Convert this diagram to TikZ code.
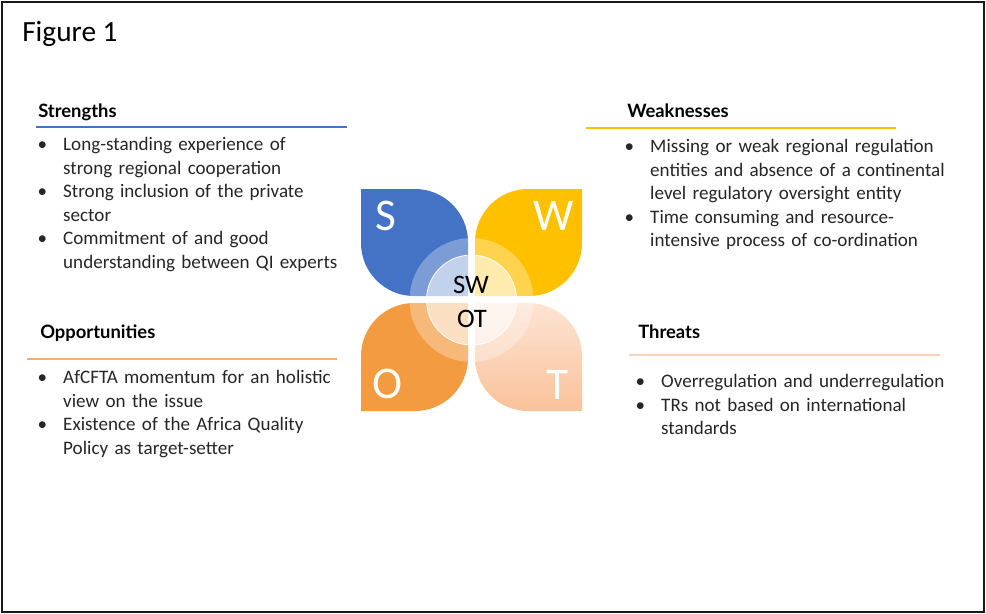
\documentclass[tikz,border=0pt]{standalone}
\usepackage{fontspec}
\setmainfont{Carlito}
\newfontfamily\headfont{Lato}
\usepackage{xcolor}
\usetikzlibrary{positioning}

\definecolor{swotblue}{HTML}{4472C4}
\definecolor{swotgold}{HTML}{FFC000}
\definecolor{swotorange}{HTML}{F39B40}
\definecolor{swotpeach}{HTML}{F9C29A}
\definecolor{swotpeachtop}{HTML}{FDE4D4}
\definecolor{lineorange}{HTML}{F4AE78}
\definecolor{linepeach}{HTML}{F9D2B6}
\definecolor{bodygray}{HTML}{262626}

% bullet list with tight spacing
\newcommand{\swotitems}[1]{%
  \begin{list}{\textbullet}{\setlength{\leftmargin}{20pt}\setlength{\labelsep}{12pt}%
      \setlength{\labelwidth}{8pt}\setlength{\itemsep}{0pt}\setlength{\parsep}{0pt}%
      \setlength{\topsep}{0pt}\setlength{\partopsep}{0pt}}#1\end{list}}

\begin{document}
\begin{tikzpicture}[x=0.75pt, y=-0.75pt,
            heading/.style={inner sep=0pt, anchor=base west, font=\headfont\bfseries\fontsize{13.8}{16}\selectfont},
            items/.style={inner sep=0pt, anchor=north west, text width=300pt, align=left, text=bodygray,
              font=\fontsize{14.3}{17.6}\selectfont},
            letter/.style={inner sep=0pt, anchor=base, text=white, font=\fontsize{34}{40}\selectfont},
            hub/.style={inner sep=0pt, anchor=base, font=\fontsize{20}{24}\selectfont}
        ]
        \useasboundingbox (0,0) rectangle (986,614);

        % frame
        \draw[line width=1.5pt, black!90] (2,2) rectangle (984,612);
        \node[inner sep=0pt, anchor=base west, font=\fontsize{22}{26}\selectfont] (title) at (22,41) {Figure 1};

        % petals
        \fill[swotblue] (361,189) -- (415,189) arc[start angle=-90, end angle=0, radius=53]
            -- (468,296) -- (414,296) arc[start angle=90, end angle=180, radius=53] -- cycle;
        \fill[swotgold] (582,189) -- (582,243) arc[start angle=0, end angle=90, radius=53]
            -- (475,296) -- (475,242) arc[start angle=180, end angle=270, radius=53] -- cycle;
        \fill[swotorange] (468,303) -- (414,303) arc[start angle=270, end angle=180, radius=53]
            -- (361,411) -- (415,411) arc[start angle=90, end angle=0, radius=53] -- cycle;
        \shade[top color=swotpeachtop, bottom color=swotpeach] (475,303) -- (529,303)
            arc[start angle=270, end angle=360, radius=53]
            -- (582,411) -- (528,411) arc[start angle=90, end angle=180, radius=53] -- cycle;

        % hub circles
        \fill[white, fill opacity=0.3] (471.5,300) circle[radius=62];
        \filldraw[white, fill opacity=0.55, line width=0.6pt] (471.5,300) circle[radius=45];

        \node[letter] (sLetter) at (386,230) {S};
        \node[letter] (wLetter) at (554,230) {W};
        \node[letter] (oLetter) at (388,398) {O};
        \node[letter] (tLetter) at (558,399) {T};
        \node[hub] (hubTop) at (471,293) {SW};
        \node[hub] (hubBottom) at (472,327) {OT};

        % Strengths
        \node[heading] (strengths) at (38,117) {Strengths};
        \draw[swotblue, line width=0.8pt] (36,127) -- (347,127);
        \node[items] (strengthsList) at (36.3,127) {\swotitems{%
            \item Long-standing experience of\\ strong regional cooperation
            \item Strong inclusion of the private\\ sector
            \item Commitment of and good\\ understanding between QI experts}};

        % Weaknesses
        \node[heading] (weaknesses) at (627,117) {Weaknesses};
        \draw[swotgold, line width=0.8pt] (586,128) -- (896,128);
        \node[items] (weaknessesList) at (623.3,129) {\swotitems{%
            \item Missing or weak regional regulation\\ entities and absence of a continental\\ level regulatory oversight entity
            \item Time consuming and resource-\\ intensive process of co-ordination}};

        % Opportunities
        \node[heading] (opportunities) at (40,338) {Opportunities};
        \draw[lineorange, line width=0.8pt] (27,359) -- (337,359);
        \node[items] (opportunitiesList) at (36.3,360) {\swotitems{%
            \item AfCFTA momentum for an holistic\\ view on the issue
            \item Existence of the Africa Quality\\ Policy as target-setter}};

        % Threats
        \node[heading] (threats) at (638,338) {Threats};
        \draw[linepeach, line width=0.8pt] (629,355) -- (940,355);
        \node[items] (threatsList) at (634.3,364) {\swotitems{%
            \item Overregulation and underregulation
            \item TRs not based on international\\ standards}};

    \end{tikzpicture}
\end{document}
